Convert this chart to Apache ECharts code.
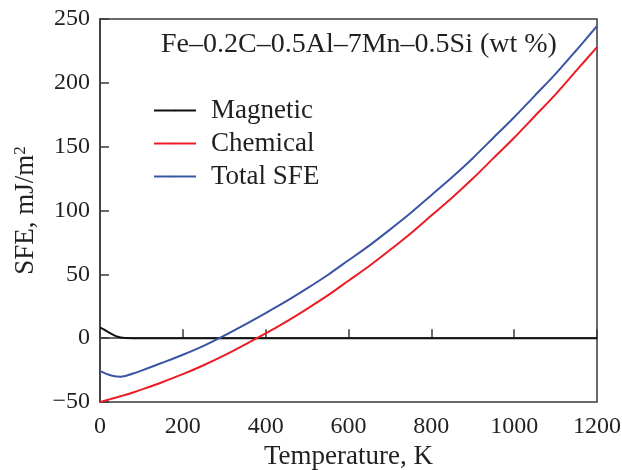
<!DOCTYPE html>
<html>
<head>
<meta charset="utf-8">
<script src="https://cdn.jsdelivr.net/npm/echarts@6/dist/echarts.min.js"></script>
<style>html,body{margin:0;padding:0;background:#fff;}#chart{width:622px;height:470px;}</style>
</head>
<body>
<div id="chart"></div>
<script>
const temps = [0,10,20,30,40,50,60,80,100,150,200,250,300,350,400,450,500,550,600,650,700,750,800,850,900,950,1000,1050,1100,1150,1200];
const magnetic = [8.4,6.6,4.7,2.9,1.4,0.5,0.1,0,0,0,0,0,0,0,0,0,0,0,0,0,0,0,0,0,0,0,0,0,0,0,0];
const chemical = [-50,-49.1,-48.2,-47.3,-46.4,-45.5,-44.5,-42.5,-40.3,-34.5,-28.2,-21.2,-13.5,-5,3.7,13,23,33.5,45,56.5,69,82,96,110,125,141,157,174,191,209.5,228];
const total = [-25.8,-27.2,-28.5,-29.5,-30.1,-30.2,-29.7,-27.7,-25.4,-19.3,-13,-6,2,10.7,19.7,29,39,49.5,61,72.5,85,98,112,126,141,157,173,190,207,225.5,244.5];
const xTicks = [0,200,400,600,800,1000,1200];
const yTicks = [-50,0,50,100,150,200,250];
const seriesNames = ['Magnetic','Chemical','Total SFE'];
const titleText = 'Fe–0.2C–0.5Al–7Mn–0.5Si (wt %)';

const pair = arr => temps.map((t,i)=>[t,arr[i]]);
const font = 'Liberation Serif, Times New Roman, serif';
const txt = '#231f20';
const axisCol = '#3a3a3a';

const chart = echarts.init(document.getElementById('chart'));
chart.setOption({
  animation:false,
  backgroundColor:'#fff',
  title:{text:titleText,left:161,top:31,padding:0,textStyle:{fontFamily:font,fontSize:28,fontWeight:'normal',color:txt}},
  legend:{orient:'vertical',left:153,top:97,padding:0,itemWidth:42,itemHeight:2,itemGap:6,
    data:seriesNames,
    textStyle:{fontFamily:font,fontSize:27,color:txt,padding:[0,0,0,10],lineHeight:27}},
  grid:{left:100,right:25,top:19,bottom:68,outerBoundsMode:'none',containLabel:false,show:true,borderColor:axisCol,borderWidth:1.5,backgroundColor:'transparent'},
  xAxis:{type:'value',min:0,max:1200,interval:200,
    name:'Temperature, K',nameLocation:'middle',nameGap:35,
    nameTextStyle:{fontFamily:font,fontSize:27,color:txt},
    axisLine:{show:true,lineStyle:{color:axisCol,width:1.5}},
    axisTick:{show:true,inside:true,length:9,lineStyle:{color:axisCol,width:1.5}},
    axisLabel:{fontFamily:font,fontSize:24,color:txt,margin:13,formatter:v=>xTicks.includes(v)?String(v):''},
    splitLine:{show:false}},
  yAxis:{type:'value',min:-50,max:250,interval:50,
    name:'SFE, mJ/m{sup|2}',nameLocation:'middle',nameGap:61,nameRotate:90,
    nameTextStyle:{fontFamily:font,fontSize:27,color:txt,rich:{sup:{fontFamily:font,fontSize:17,color:txt,verticalAlign:'top',padding:[0,0,10,0]}}},
    axisLine:{show:true,lineStyle:{color:axisCol,width:1.5}},
    axisTick:{show:true,inside:true,length:9,lineStyle:{color:axisCol,width:1.5}},
    axisLabel:{fontFamily:font,fontSize:24,color:txt,margin:10,formatter:v=>yTicks.includes(v)?String(v).replace('-','−'):''},
    splitLine:{show:false}},
  series:[
    {name:seriesNames[0],type:'line',data:pair(magnetic),symbol:'none',smooth:0.3,lineStyle:{color:'#111',width:2},itemStyle:{color:'#111'},z:3},
    {name:seriesNames[1],type:'line',data:pair(chemical),symbol:'none',smooth:0.3,lineStyle:{color:'#ec1c24',width:2},itemStyle:{color:'#ec1c24'}},
    {name:seriesNames[2],type:'line',data:pair(total),symbol:'none',smooth:0.3,lineStyle:{color:'#3b55a5',width:2},itemStyle:{color:'#3b55a5'}}
  ]
});
</script>
</body>
</html>
